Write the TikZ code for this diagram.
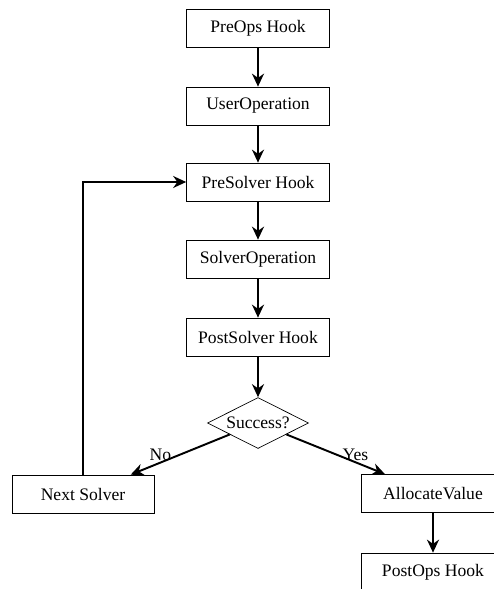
\documentclass[tikz,border=0pt]{standalone}
\usepackage{fontspec}
\setmainfont{Liberation Serif}
\newfontfamily\boxfont{Liberation Serif}
\usepackage{tikz}
\usetikzlibrary{arrows.meta,positioning,shapes.geometric}
\tikzset{
  block/.style={draw,align=center,minimum width=2.86cm,minimum height=0.76cm,
                inner sep=2pt,font=\boxfont},
  decide/.style={draw,diamond,aspect=2,inner sep=0pt,minimum width=2.02cm,
                 minimum height=1.02cm,font=\boxfont},
  flow/.style={-{Stealth[length=2.6mm,width=2.4mm]},line width=1.1pt},
  lab/.style={inner sep=0.5pt,font=\boxfont},
}

\begin{document}
\begin{tikzpicture}
      \clip (0,0) rectangle (9.88,-11.78);
      \foreach \n/\y/\t in {pre/0.56/PreOps Hook,user/2.12/UserOperation,presol/3.64/PreSolver Hook,solver/5.18/SolverOperation,postsol/6.74/PostSolver Hook}
        \node[block] (\n) at (5.16,-\y) {\t};
      \node[decide] (dec) at (5.16,-8.46) {Success?};
      \node[block,minimum width=2.84cm] (next) at (1.66,-9.88) {Next Solver};
      \node[block] (alloc) at (8.66,-9.87) {AllocateValue};
      \node[block] (postops) at (8.66,-11.44) {PostOps Hook};
      \draw[flow] (pre) -- (user);
      \draw[flow] (user) -- (presol);
      \draw[flow] (presol) -- (solver);
      \draw[flow] (solver) -- (postsol);
      \draw[flow] (postsol) -- (dec);
      \draw[flow] (dec) -- node[lab,pos=0.7,above] {No} (next);
      \draw[flow] (dec) -- node[lab,pos=0.7,above] {Yes} (alloc);
      \draw[flow] (next) |- (presol);
      \draw[flow] (alloc) -- (postops);
    \end{tikzpicture}
\end{document}
